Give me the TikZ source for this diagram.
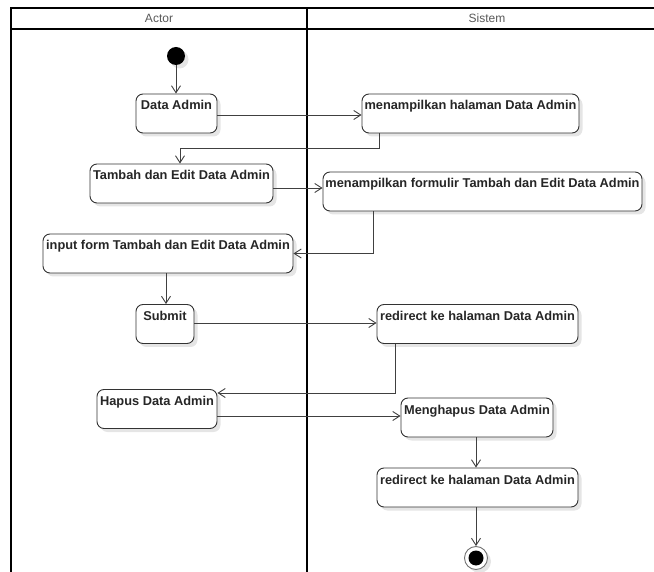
\documentclass[tikz,border=0pt]{standalone}
\usepackage{fontspec}
\setmainfont{Liberation Sans}
\usetikzlibrary{arrows.meta,shadows}
\begin{document}
\begin{tikzpicture}[x=1pt,y=-1pt,
  lane/.style={line width=1.9pt, draw=black},
  lanehead/.style={font=\fontsize{12}{14}\selectfont, text=black!65, inner sep=0pt},
  softshadow/.style={drop shadow={shadow xshift=3.5pt, shadow yshift=-3.5pt, fill=black, opacity=0.10}},
  act/.style={draw=black!80, line width=0.9pt, rounded corners=7pt, fill=white,
     font=\bfseries\fontsize{12.8}{14}\selectfont, text=black!85,
     inner xsep=1pt, inner ysep=4pt, text height=12pt, text depth=19pt,
     softshadow},
  flow/.style={draw=black!75, line width=0.9pt, -{Straight Barb[length=7pt,width=9pt]}},
  startnode/.style={circle, fill=black, minimum size=18pt, inner sep=0pt, softshadow},
  endnode/.style={circle, draw=black!55, fill=white, minimum size=23pt, inner sep=0pt,
     line width=0.9pt, softshadow,
     path picture={\fill[black] (path picture bounding box.center) circle (7.5pt);}}
]
\useasboundingbox (0,0) rectangle (654,572);

% swimlane frame
\draw[lane] (11,572) -- (11,8) -- (654,8);
\draw[lane] (11,29) -- (654,29);
\draw[lane] (307,8) -- (307,572);
\node[lanehead] (hA) at (159,18.5) {Actor};
\node[lanehead] (hS) at (487,18.5) {Sistem};

% activities
\node[startnode] (st) at (176,56) {};
\node[act, minimum width=81pt]  (a1) at (176.5,113.5) {Data Admin};
\node[act, minimum width=217pt] (s1) at (470.5,113.5) {menampilkan halaman Data Admin};
\node[act, minimum width=183pt] (a2) at (181.5,183.5) {Tambah dan Edit Data Admin};
\node[act, minimum width=319pt] (s2) at (482.5,191.5) {menampilkan formulir Tambah dan Edit Data Admin};
\node[act, minimum width=250pt] (a3) at (168,253.5) {input form Tambah dan Edit Data Admin};
\node[act, minimum width=58pt]  (a4) at (165,324) {Submit};
\node[act, minimum width=201pt] (s3) at (477.5,324) {redirect ke halaman Data Admin};
\node[act, minimum width=120pt] (a5) at (157,409) {Hapus Data Admin};
\node[act, minimum width=152pt] (s4) at (477,417.5) {Menghapus Data Admin};
\node[act, minimum width=201pt] (s5) at (477.5,487.5) {redirect ke halaman Data Admin};
\node[endnode] (en) at (476,558) {};

% control flow
\draw[flow] (st) -- (st |- a1.north);
\draw[flow] (a1.east |- 0,115) -- (s1.west |- 0,115);
\draw[flow] (s1.south -| 379,0) -- ++(0,15) -| (a2.north -| 180,0);
\draw[flow] (a2.east |- 0,188) -- (s2.west |- 0,188);
\draw[flow] (s2.south -| 373,0) |- (a3.east);
\draw[flow] (a3.south -| 166,0) -- (a4.north -| 166,0);
\draw[flow] (a4.east |- 0,323) -- (s3.west |- 0,323);
\draw[flow] (s3.south -| 395,0) |- (a5.east |- 0,393);
\draw[flow] (a5.east |- 0,416) -- (s4.west |- 0,416);
\draw[flow] (s4.south -| 476,0) -- (s5.north -| 476,0);
\draw[flow] (s5.south -| 476,0) -- (en.north);
\end{tikzpicture}
\end{document}
